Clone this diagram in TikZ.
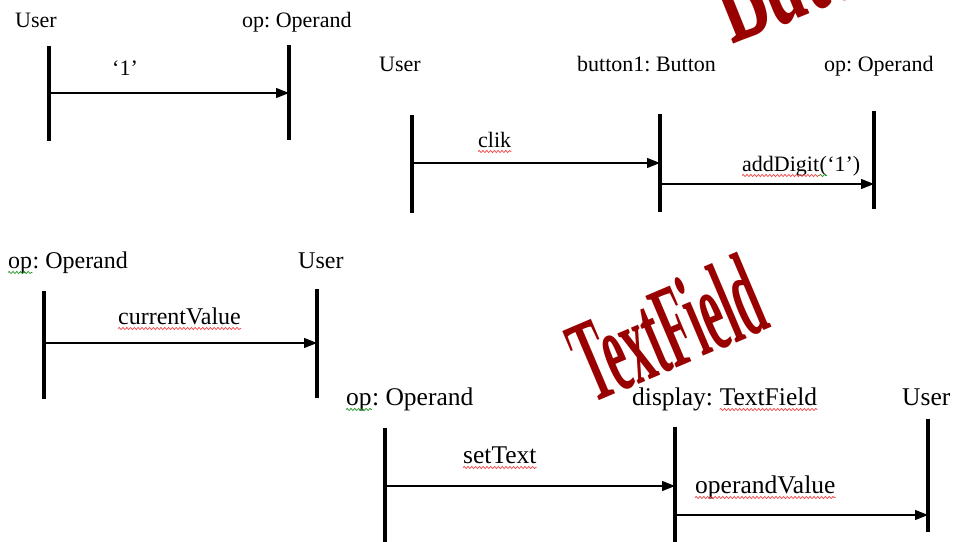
\documentclass[tikz,border=0pt]{standalone}
\usepackage{fontspec}
\setmainfont{Liberation Serif}
\usepackage{graphicx}
\usetikzlibrary{arrows.meta,decorations.pathmorphing}
\frenchspacing
\definecolor{wordred}{RGB}{153,0,0}
\definecolor{spellred}{RGB}{240,70,70}
\definecolor{spellgreen}{RGB}{40,150,40}
\tikzset{
  lbl/.style={inner sep=0pt, anchor=base west, text=black},
  szA/.style={lbl, font=\fontsize{22}{26}\selectfont},
  szB/.style={lbl, font=\fontsize{24}{28}\selectfont},
  szC/.style={lbl, font=\fontsize{25.5}{30}\selectfont},
  lifeline/.style={line width=4.5pt},
  msg/.style={line width=1.3pt, -{Triangle[length=13pt,width=10pt]}},
  wavy/.style={line width=0.7pt, decorate, decoration={snake, amplitude=1.1pt, segment length=3.8pt}},
  redwave/.style={wavy, spellred},
  greenwave/.style={wavy, spellgreen},
  bigword/.style={inner sep=0pt, anchor=base west, text=wordred},
}
% wavy proofing mark under a named text node
\newcommand{\underwave}[2]{\draw[#1] ([yshift=-4.5pt]#2.base west) -- ([yshift=-4.5pt]#2.base east);}

\begin{document}
\begin{tikzpicture}[x=1pt,y=-1pt]
\useasboundingbox (0,0) rectangle (953,541);
\clip (0,0) rectangle (953,541);

% ---- large slanted words ----
\node[bigword, rotate=22, font=\bfseries\fontsize{140}{140}\selectfont] (wbutton) at (732,45) {\scalebox{0.5}[1]{Button}};
\node[bigword, rotate=23, font=\bfseries\fontsize{119}{119}\selectfont] (wtext) at (592,404) {\scalebox{0.41}[1]{TextField}};

% ---- sequence 1: User -> op ----
\node[szA] (a1) at (15,27) {User};
\node[szA] (a2) at (242,27) {op: Operand};
\node[szA] (am) at (112,75) {‘1’};
\coordinate (a1t) at (49,46);  \coordinate (a1b) at (49,141);
\coordinate (a2t) at (289,45); \coordinate (a2b) at (289,140);
\coordinate (a1m) at (49,93);  \coordinate (a2m) at (289,93);
\draw[msg] (a1m) -- (a2m);
\draw[lifeline] (a1t) -- (a1b);
\draw[lifeline] (a2t) -- (a2b);

% ---- sequence 2: User -> button1 -> op ----
\node[szA] (b1) at (379,71) {User};
\node[szA] (b2) at (577,71) {button1: Button};
\node[szA] (b3) at (824,71) {op: Operand};
\node[szA] (bm1) at (478,147) {clik};
\node[szA] (bm2a) at (742,171) {addDigit};
\node[szA, anchor=base west] (bm2b) at (bm2a.base east) {(};
\node[szA, anchor=base west] (bm2c) at (bm2b.base east) {‘1’)};
\underwave{redwave}{bm1}
\underwave{redwave}{bm2a}
\underwave{greenwave}{bm2b}
\coordinate (b1t) at (412,115); \coordinate (b1b) at (412,213);
\coordinate (b2t) at (660,114); \coordinate (b2b) at (660,212);
\coordinate (b3t) at (874,111); \coordinate (b3b) at (874,209);
\coordinate (b1m) at (412,163); \coordinate (b2m) at (660,163);
\coordinate (b2n) at (660,184); \coordinate (b3n) at (874,184);
\draw[msg] (b1m) -- (b2m);
\draw[msg] (b2n) -- (b3n);
\draw[lifeline] (b1t) -- (b1b);
\draw[lifeline] (b2t) -- (b2b);
\draw[lifeline] (b3t) -- (b3b);

% ---- sequence 3: op -> User ----
\node[szB] (c1a) at (8,268) {op};
\node[szB, anchor=base west] (c1b) at (c1a.base east) {: Operand};
\node[szB] (c2) at (298,268) {User};
\node[szB] (cm) at (118,324) {currentValue};
\underwave{greenwave}{c1a}
\underwave{redwave}{cm}
\coordinate (c1t) at (44,291);  \coordinate (c1e) at (44,399);
\coordinate (c2t) at (317,289); \coordinate (c2b) at (317,398);
\coordinate (c1m) at (44,343);  \coordinate (c2m) at (317,343);
\draw[msg] (c1m) -- (c2m);
\draw[lifeline] (c1t) -- (c1e);
\draw[lifeline] (c2t) -- (c2b);

% ---- sequence 4: op -> display -> User ----
\node[szC] (d1a) at (346,405) {op};
\node[szC, anchor=base west] (d1b) at (d1a.base east) {: Operand};
\node[szC] (d2a) at (632,405) {display:};
\node[szC, anchor=base west] (d2b) at ([xshift=6.4pt]d2a.base east) {TextField};
\node[szC] (d3) at (902,405) {User};
\node[szC] (dm1) at (463,463) {setText};
\node[szC] (dm2) at (695,493) {operandValue};
\underwave{greenwave}{d1a}
\underwave{redwave}{d2b}
\underwave{redwave}{dm1}
\underwave{redwave}{dm2}
\coordinate (d1t) at (385,428); \coordinate (d1e) at (385,545);
\coordinate (d2t) at (675,427); \coordinate (d2e) at (675,545);
\coordinate (d3t) at (928,419); \coordinate (d3b) at (928,532);
\coordinate (d1m) at (385,486); \coordinate (d2m) at (675,486);
\coordinate (d2n) at (675,515); \coordinate (d3n) at (928,515);
\draw[msg] (d1m) -- (d2m);
\draw[msg] (d2n) -- (d3n);
\draw[lifeline] (d1t) -- (d1e);
\draw[lifeline] (d2t) -- (d2e);
\draw[lifeline] (d3t) -- (d3b);
\end{tikzpicture}
\end{document}
